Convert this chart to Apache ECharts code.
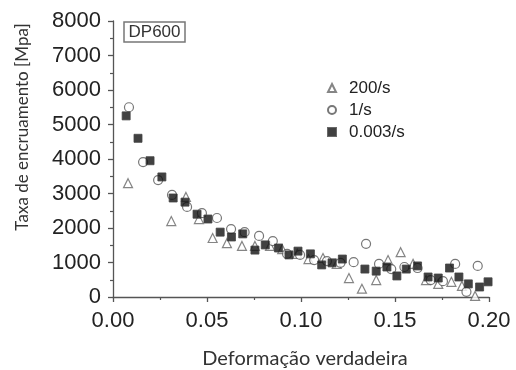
<!DOCTYPE html>
<html>
<head>
<meta charset="utf-8">
<script src="https://cdn.jsdelivr.net/npm/echarts@6/dist/echarts.min.js"></script>
<style>
  html, body { margin: 0; padding: 0; background: #fff; }
  #chart { width: 516px; height: 370px; }
</style>
</head>
<body>
<div id="chart"></div>
<script>
// 200/s
const strainFast = [0.008, 0.031, 0.0388, 0.0457, 0.053, 0.0606, 0.0686, 0.0755, 0.0835, 0.090, 0.098, 0.104, 0.1117, 0.119, 0.1255, 0.1324, 0.140, 0.1463, 0.153, 0.1596, 0.1665, 0.173, 0.180, 0.1856, 0.1926]
const rateFast = [3300, 2200, 2900, 2260, 1710, 1560, 1480, 1480, 1480, 1390, 1250, 1100, 1130, 960, 550, 240, 490, 1070, 1300, 960, 490, 380, 440, 320, 30]
// 1/s
const strainMid = [0.0085, 0.016, 0.024, 0.0314, 0.0394, 0.0473, 0.0553, 0.0628, 0.070, 0.0777, 0.085, 0.0926, 0.0995, 0.107, 0.1138, 0.121, 0.128, 0.1346, 0.1415, 0.148, 0.155, 0.162, 0.169, 0.1755, 0.182, 0.188, 0.194]
const rateMid = [5500, 3910, 3390, 2960, 2610, 2430, 2290, 1970, 1880, 1770, 1620, 1250, 1220, 1070, 1040, 990, 1010, 1540, 960, 810, 870, 840, 490, 460, 960, 150, 900]
// 0.003/s
const strainSlow = [0.007, 0.0133, 0.0197, 0.026, 0.032, 0.0383, 0.0447, 0.0505, 0.057, 0.063, 0.069, 0.0755, 0.081, 0.088, 0.0936, 0.0984, 0.105, 0.111, 0.1165, 0.122, 0.134, 0.140, 0.1457, 0.151, 0.156, 0.162, 0.1676, 0.173, 0.179, 0.184, 0.189, 0.195, 0.1995]
const rateSlow = [5250, 4600, 3950, 3480, 2870, 2750, 2400, 2260, 1880, 1740, 1830, 1360, 1510, 1420, 1220, 1330, 1250, 930, 990, 1100, 810, 750, 870, 610, 810, 900, 580, 550, 840, 580, 380, 290, 440]

const seriesNames = ['200/s', '1/s', '0.003/s']

const pairs = (xs, ys) => xs.map((x, i) => [x, ys[i]])

const chart = echarts.init(document.getElementById('chart'))
const arial = '"Liberation Sans", Arial, sans-serif'
const tickFont = { color: '#222', fontSize: 22, fontFamily: arial }

chart.setOption({
  animation: false,
  grid: { left: 113, right: 27, top: 21, bottom: 73 },
  legend: {
    orient: 'vertical',
    left: 322,
    top: 74,
    itemWidth: 8,
    itemHeight: 8,
    itemGap: 4,
    data: seriesNames,
    textStyle: {
      color: '#222',
      fontSize: 17,
      lineHeight: 18,
      fontFamily: arial,
      padding: [0, 0, 0, 8]
    }
  },
  xAxis: {
    type: 'value',
    min: 0,
    max: 0.2,
    interval: 0.05,
    axisLine: { lineStyle: { color: '#555', width: 1.3 } },
    axisTick: { show: true, length: 5, lineStyle: { color: '#555', width: 1.3 } },
    minorTick: { show: true, splitNumber: 2, length: 3, lineStyle: { color: '#555', width: 1.2 } },
    splitLine: { show: false },
    axisLabel: { ...tickFont, margin: 13, formatter: v => v.toFixed(2) }
  },
  yAxis: {
    type: 'value',
    min: 0,
    max: 8000,
    interval: 1000,
    axisLine: { show: true, lineStyle: { color: '#555', width: 1.3 } },
    axisTick: { show: true, length: 5, lineStyle: { color: '#555', width: 1.3 } },
    minorTick: { show: true, splitNumber: 2, length: 3, lineStyle: { color: '#555', width: 1.2 } },
    splitLine: { show: false },
    axisLabel: { ...tickFont, margin: 12, formatter: v => String(v) }
  },
  graphic: [
    {
      type: 'text',
      x: 23,
      y: 127,
      rotation: Math.PI / 2,
      style: {
        text: 'Taxa de encruamento [Mpa]',
        fill: '#333',
        font: '17px Lato, "Open Sans", sans-serif',
        align: 'center',
        verticalAlign: 'middle'
      }
    },
    {
      type: 'text',
      x: 305,
      y: 359,
      style: {
        text: 'Deformação verdadeira',
        fill: '#333',
        font: '20px Lato, "Open Sans", sans-serif',
        align: 'center',
        verticalAlign: 'middle'
      }
    },
    {
      type: 'rect',
      shape: { x: 124, y: 22, width: 61, height: 20 },
      style: { fill: '#fff', stroke: '#777', lineWidth: 1.5 }
    },
    {
      type: 'text',
      x: 154.5,
      y: 32.5,
      style: {
        text: 'DP600',
        fill: '#333',
        font: '17px ' + arial,
        align: 'center',
        verticalAlign: 'middle'
      }
    }
  ],
  series: [
    {
      name: seriesNames[0],
      type: 'scatter',
      symbol: 'triangle',
      symbolSize: 9,
      itemStyle: { color: '#fff', borderColor: '#666', borderWidth: 1.2 },
      data: pairs(strainFast, rateFast)
    },
    {
      name: seriesNames[1],
      type: 'scatter',
      symbol: 'circle',
      symbolSize: 9,
      itemStyle: { color: '#fff', borderColor: '#555', borderWidth: 1.2 },
      data: pairs(strainMid, rateMid)
    },
    {
      name: seriesNames[2],
      type: 'scatter',
      symbol: 'rect',
      symbolSize: 8,
      itemStyle: { color: '#111', borderColor: '#444', borderWidth: 1 },
      data: pairs(strainSlow, rateSlow)
    }
  ]
})
</script>
</body>
</html>
